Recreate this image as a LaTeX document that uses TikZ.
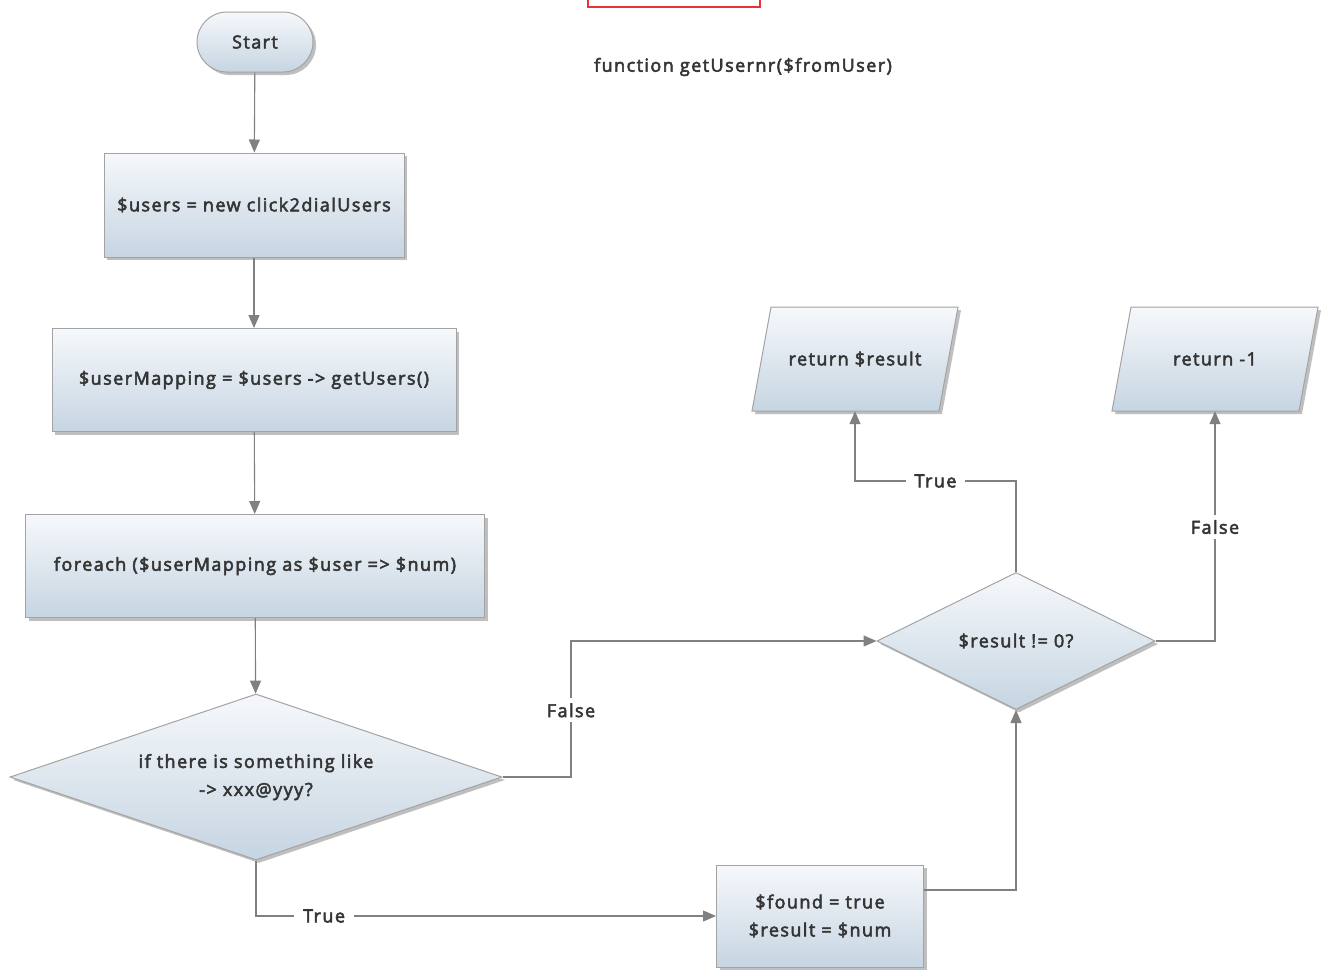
\documentclass[tikz,border=0pt]{standalone}
\usepackage{fontspec}
\setmainfont{Open Sans}[FakeBold=3, LetterSpace=8]
\usetikzlibrary{arrows.meta,shapes.geometric,shapes.misc,shadows,calc}
\definecolor{txt}{HTML}{353535}
\definecolor{edge}{HTML}{808080}
\definecolor{rim}{HTML}{A3A3A3}
\definecolor{topc}{HTML}{F6F8FB}
\definecolor{botc}{HTML}{C6D5E2}
\definecolor{redrim}{HTML}{E8333A}
\tikzset{
  skin/.style={draw=rim, line width=1pt, top color=topc, bottom color=botc,
    drop shadow={shadow xshift=3pt, shadow yshift=-3pt, fill=black!45, opacity=.55}},
  label font/.style={text=txt, font=\fontsize{18}{28}\selectfont},
  shape base/.style={skin, label font, align=center, inner sep=0pt},
  terminal/.style={shape base, rounded rectangle, minimum width=116pt, minimum height=60pt},
  process/.style={shape base, rectangle},
  decision/.style={shape base, diamond, aspect=2},
  iotext/.style={label font, rectangle, inner sep=0pt, minimum width=187pt, minimum height=104pt},
  flow/.style={draw=edge, line width=1.1pt, -{Triangle[length=13pt,width=11pt]}},
  tag/.style={fill=white, label font, inner xsep=9pt, inner ysep=5pt},
}
\begin{document}
\begin{tikzpicture}[x=1pt,y=-1pt]
  \clip (0,0) rectangle (1325,969);
  \fill[white] (0,0) rectangle (1325,969);

  % header frame (cut at the top) and function signature
  \draw[redrim, line width=1.2pt] (588,-10) rectangle (760,7);
  \node[label font] (title) at (743,67) {function getUsernr(\$fromUser)};

  % left column
  \node[terminal] (start) at (255,42) {Start};
  \node[process, minimum width=300pt, minimum height=104pt] (users) at (254,205) {\$users = new click2dialUsers};
  \node[process, minimum width=404pt, minimum height=103pt] (mapping) at (254,380) {\$userMapping = \$users -> getUsers()};
  \node[process, minimum width=459pt, minimum height=103pt] (loop) at (255,566) {foreach (\$userMapping as \$user => \$num)};
  \node[decision, minimum width=492pt, minimum height=166pt, text depth=4pt] (match) at (256,777) {if there is something like\\-> xxx@yyy?};

  % right side
  \node[process, minimum width=207pt, minimum height=102pt] (found) at (820,916) {\$found = true\\\$result = \$num};
  \node[decision, minimum width=278pt, minimum height=137pt] (check) at (1016,641) {\$result != 0?};

  % output parallelograms
  \begin{scope}[shift={(855,359)}]
    \path[skin] (-84,-52) -- (103,-52) -- (84,52) -- (-103,52) -- cycle;
  \end{scope}
  \begin{scope}[shift={(1215,359)}]
    \path[skin] (-84,-52) -- (103,-52) -- (84,52) -- (-103,52) -- cycle;
  \end{scope}
  \node[iotext] (retres) at (855,359) {return \$result};
  \node[iotext] (retneg) at (1215,359) {return -1};

  % connectors
  \draw[flow] (start) -- (users);
  \draw[flow] (users) -- (mapping);
  \draw[flow] (mapping) -- (loop);
  \draw[flow] (loop) -- (match);
  \draw[flow] (match.east) -| (571,641) node[tag, pos=0.745] {False} -- (check.west);
  \draw[flow] (match.south) |- node[tag, pos=0.574] {True} (found.west);
  \draw[flow] (found.east |- 0,890) -| (check.south);
  \draw[flow] (check.north) |- (855,481) node[tag, pos=0.75] {True} -- (retres.south);
  \draw[flow] (check.east) -| node[tag, pos=0.748] {False} (retneg.south);
\end{tikzpicture}
\end{document}
